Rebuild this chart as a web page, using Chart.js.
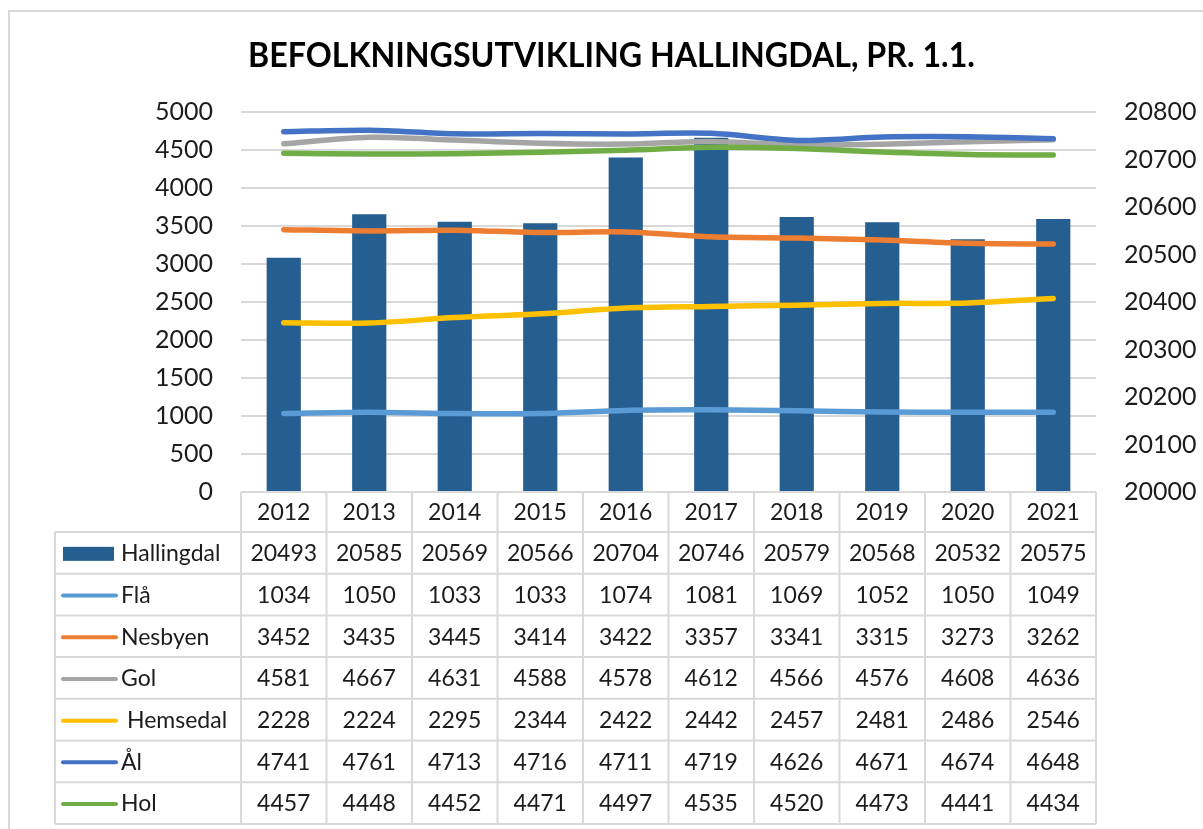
<!DOCTYPE html>
<html>
<head>
<meta charset="utf-8">
<title>Befolkningsutvikling Hallingdal</title>
<script src="https://cdn.jsdelivr.net/npm/chart.js@4.4.1/dist/chart.umd.min.js"></script>
<style>
  html, body { margin: 0; padding: 0; background: #fff; }
  #wrap { position: relative; width: 1203px; height: 829px; }
</style>
</head>
<body>
<div id="wrap"><canvas id="popChart" width="1203" height="829"></canvas></div>
<script>
const years = ['2012', '2013', '2014', '2015', '2016', '2017', '2018', '2019', '2020', '2021'];
const hallingdal = [20493, 20585, 20569, 20566, 20704, 20746, 20579, 20568, 20532, 20575];
const fla      = [1034, 1050, 1033, 1033, 1074, 1081, 1069, 1052, 1050, 1049];
const nesbyen  = [3452, 3435, 3445, 3414, 3422, 3357, 3341, 3315, 3273, 3262];
const gol      = [4581, 4667, 4631, 4588, 4578, 4612, 4566, 4576, 4608, 4636];
const hemsedal = [2228, 2224, 2295, 2344, 2422, 2442, 2457, 2481, 2486, 2546];
const al       = [4741, 4761, 4713, 4716, 4711, 4719, 4626, 4671, 4674, 4648];
const hol      = [4457, 4448, 4452, 4471, 4497, 4535, 4520, 4473, 4441, 4434];
const leftTicks  = [0, 500, 1000, 1500, 2000, 2500, 3000, 3500, 4000, 4500, 5000];
const rightTicks = [20000, 20100, 20200, 20300, 20400, 20500, 20600, 20700, 20800];

const TITLE = 'BEFOLKNINGSUTVIKLING HALLINGDAL, PR. 1.1.';
const FONT = 'Lato, "Open Sans", sans-serif';
const TXT = '#1c1c1c';
const GRID = '#d9d9d9';

function lineSet(label, data, color, order) {
  return { type: 'line', label, data, borderColor: color, backgroundColor: color,
    borderWidth: 5.5, pointRadius: 0, tension: 0.3, borderCapStyle: 'round',
    fill: false, yAxisID: 'y', order };
}

// title, frame and data table (Excel-style) drawn under the plot
const tablePlugin = {
  id: 'dataTable',
  afterDraw(chart) {
    const ctx = chart.ctx;
    const xs = chart.scales.x;
    const area = chart.chartArea;
    const colW = xs.getPixelForValue(1) - xs.getPixelForValue(0);
    const tLeft = 55, tRight = area.right, top = area.bottom;
    const headBottom = 532, rowH = 41.7;
    const rows = chart.data.datasets;

    ctx.save();
    // frame
    ctx.strokeStyle = GRID; ctx.lineWidth = 2;
    ctx.beginPath(); ctx.moveTo(9, 829); ctx.lineTo(9, 11); ctx.lineTo(1203, 11); ctx.stroke();

    // title
    ctx.fillStyle = '#000';
    ctx.font = 'bold 34px ' + FONT;
    const w = ctx.measureText(TITLE).width;
    ctx.textBaseline = 'alphabetic'; ctx.textAlign = 'left';
    ctx.translate(248, 67);
    ctx.scale(727 / w, 1);
    ctx.fillText(TITLE, 0, 0);
    ctx.setTransform(1, 0, 0, 1, 0, 0);

    // grid lines of the table
    ctx.strokeStyle = GRID; ctx.lineWidth = 2;
    ctx.beginPath();
    const bottom = headBottom + rows.length * rowH;
    ctx.moveTo(area.left, top); ctx.lineTo(tRight, top);
    for (let i = 0; i <= rows.length; i++) {
      const y = headBottom + i * rowH;
      ctx.moveTo(tLeft, y); ctx.lineTo(tRight, y);
    }
    for (let c = 0; c <= years.length; c++) {
      const x = area.left + c * colW;
      ctx.moveTo(x, top); ctx.lineTo(x, bottom);
    }
    ctx.moveTo(tLeft, headBottom); ctx.lineTo(tLeft, bottom);
    ctx.stroke();

    // header row
    ctx.fillStyle = TXT; ctx.font = '23px ' + FONT;
    ctx.textAlign = 'center'; ctx.textBaseline = 'middle';
    years.forEach((yr, i) => ctx.fillText(yr, xs.getPixelForValue(i), (top + headBottom) / 2 + 1));

    // data rows
    rows.forEach((ds, r) => {
      const cy = headBottom + r * rowH + rowH / 2 + 1;
      // legend key
      if (ds.type === 'bar') {
        ctx.fillStyle = ds.backgroundColor;
        ctx.fillRect(63, cy - 7, 51, 14);
      } else {
        ctx.strokeStyle = ds.borderColor; ctx.lineWidth = 4; ctx.lineCap = 'round';
        ctx.beginPath(); ctx.moveTo(63, cy); ctx.lineTo(116, cy); ctx.stroke();
      }
      ctx.fillStyle = TXT; ctx.textAlign = 'left';
      ctx.fillText(ds.label, ds.label === 'Hemsedal' ? 127 : 121, cy);
      ctx.textAlign = 'center';
      ds.data.forEach((v, i) => ctx.fillText(String(v), xs.getPixelForValue(i), cy));
    });
    ctx.restore();
  }
};

new Chart(document.getElementById('popChart'), {
  data: {
    labels: years,
    datasets: [
      { type: 'bar', label: 'Hallingdal', data: hallingdal, backgroundColor: '#255e91',
        yAxisID: 'y2', barPercentage: 0.4, categoryPercentage: 1, order: 10 },
      lineSet('Flå', fla, '#5b9bd5', 6),
      lineSet('Nesbyen', nesbyen, '#ed7d31', 5),
      lineSet('Gol', gol, '#a5a5a5', 4),
      lineSet('Hemsedal', hemsedal, '#ffc000', 3),
      lineSet('Ål', al, '#4472c4', 2),
      lineSet('Hol', hol, '#70ad47', 1)
    ]
  },
  options: {
    responsive: false,
    animation: false,
    layout: { padding: { top: 112, bottom: 337, left: 0, right: 0 } },
    plugins: { legend: { display: false }, title: { display: false }, tooltip: { enabled: false } },
    scales: {
      x: { display: false, offset: true, grid: { display: false } },
      y: {
        position: 'left', min: 0, max: 5000,
        afterBuildTicks: s => { s.ticks = leftTicks.map(v => ({ value: v })); },
        afterFit: s => { s.width = 241; },
        border: { display: false },
        grid: { color: GRID, lineWidth: 2, drawTicks: false },
        ticks: { color: TXT, font: { family: FONT, size: 25 }, padding: 28, callback: v => String(v) }
      },
      y2: {
        position: 'right', min: 20000, max: 20800,
        afterBuildTicks: s => { s.ticks = rightTicks.map(v => ({ value: v })); },
        afterFit: s => { s.width = 107; },
        border: { display: false },
        grid: { display: false, drawTicks: false },
        ticks: { color: TXT, font: { family: FONT, size: 25 }, padding: 28, callback: v => String(v) }
      }
    }
  },
  plugins: [tablePlugin]
});
</script>
</body>
</html>
